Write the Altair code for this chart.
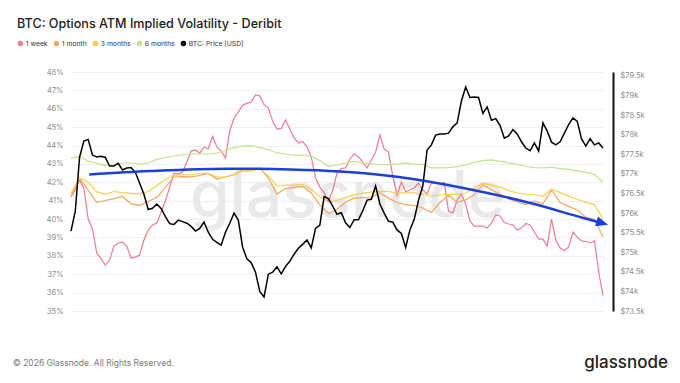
import altair as alt
import pandas as pd

# time axes: hours since day-0 00:00 (regular sampling grids)
hours = [round(10.24 + 2.7 * k, 3) for k in range(63)]
hours_fine = [round(10.24 + 1.35 * j, 3) for j in range(125)]

iv_1w = [41.2, 41.6, 42.12, 41.69, 40.0, 39.46, 38.15, 37.83, 37.5, 37.77,
         38.53, 38.70, 38.75, 38.53, 37.88, 37.93, 38.04, 38.86, 39.4, 39.68,
         39.78, 40.38, 40.98, 41.74, 42.5, 42.45, 42.56, 43.10, 43.7, 43.76,
         43.59, 43.92, 43.81, 44.5, 43.92, 43.70, 43.32, 44.79, 45.5, 45.82,
         46.2, 46.29, 46.37, 46.75, 46.7, 46.22, 46.04, 45.33, 44.9, 44.93,
         45.39, 44.90, 44.41, 44.14, 44.22, 43.92, 43.38, 42.23, 41.74, 41.44,
         40.93, 41.58, 42.5, 42.75, 42.78, 43.27, 43.54, 43.38, 43.1, 42.78,
         43.21, 43.65, 44.57, 43.8, 43.65, 42.34, 41.3, 42.02, 41.47, 41.58,
         41.69, 41.96, 41.58, 41.36, 41.96, 41.96, 41.91, 42.0, 40.44, 40.33,
         41.04, 41.36, 40.82, 39.89, 39.62, 39.62, 39.62, 39.51, 39.78, 40.22,
         40.17, 39.81, 39.73, 39.69, 39.4, 39.51, 39.76, 39.68, 39.3, 38.91,
         38.91, 38.53, 40.0, 38.86, 38.42, 38.29, 38.48, 39.30, 39.02, 38.81,
         38.78, 38.70, 38.81, 37.12, 35.85]
iv_1m = [41.25, 42.23, 41.58, 40.91, 41.01, 41.11, 41.23, 40.83, 40.75, 40.95,
         41.18, 41.72, 42.29, 42.31, 42.30, 42.37, 42.48, 42.18, 42.29, 42.42,
         42.67, 42.67, 42.78, 42.23, 41.36, 41.66, 41.72, 41.78, 41.42, 40.77,
         40.30, 40.52, 40.93, 41.14, 41.17, 41.16, 41.44, 41.14, 40.90, 40.79,
         40.74, 40.60, 40.36, 40.90, 41.30, 40.93, 41.04, 41.32, 41.88, 41.58,
         41.35, 41.09, 40.93, 40.79, 40.98, 40.83, 41.58, 40.90, 40.69, 40.49,
         40.10, 39.99, 39.02]
iv_3m = [41.42, 42.23, 42.02, 41.48, 41.36, 41.50, 41.44, 41.40, 41.37, 41.50,
         41.82, 42.15, 42.38, 42.41, 42.41, 42.48, 42.50, 42.29, 42.29, 42.42,
         42.61, 42.61, 42.75, 42.34, 41.80, 41.85, 41.85, 41.88, 41.61, 41.23,
         40.93, 41.01, 41.17, 41.32, 41.41, 41.47, 41.51, 41.50, 41.42, 41.42,
         41.42, 41.34, 41.25, 41.31, 41.35, 41.34, 41.42, 41.69, 41.96, 41.85,
         41.74, 41.55, 41.42, 41.35, 41.35, 41.24, 41.63, 41.44, 41.25, 41.08,
         40.91, 40.79, 40.00]
iv_6m = [43.32, 43.40, 43.16, 43.03, 42.91, 42.94, 43.05, 43.05, 42.99, 43.05,
         43.25, 43.35, 43.43, 43.50, 43.54, 43.54, 43.54, 43.59, 43.73, 43.89,
         43.97, 44.00, 43.89, 43.77, 43.61, 43.54, 43.48, 43.47, 43.43, 43.18,
         42.87, 42.94, 43.05, 43.14, 43.05, 43.01, 42.97, 42.96, 42.99, 43.04,
         42.99, 42.97, 42.78, 42.78, 42.80, 42.85, 42.94, 43.10, 43.18, 43.22,
         43.14, 43.06, 42.97, 42.86, 42.80, 42.78, 42.82, 42.74, 42.70, 42.62,
         42.54, 42.43, 41.99]
btc_price_k = [75.54, 76.05, 77.43, 77.84, 77.88, 77.48, 77.43, 77.45, 77.42, 77.20,
               77.20, 77.27, 77.10, 77.15, 77.16, 77.04, 76.76, 76.48, 76.09, 76.12,
               76.23, 76.12, 75.91, 75.73, 75.71, 75.82, 75.78, 75.74, 75.66, 75.54,
               75.61, 75.77, 75.51, 75.33, 75.25, 75.18, 75.51, 75.74, 76.00, 75.82,
               75.13, 74.83, 74.73, 74.49, 74.00, 73.86, 74.44, 74.49, 74.63, 74.45,
               74.64, 74.77, 74.95, 75.10, 75.20, 75.31, 75.11, 75.61, 75.69, 76.42,
               76.37, 76.18, 75.97, 76.01, 75.75, 75.63, 75.83, 75.83, 76.06, 76.33,
               76.35, 76.69, 76.23, 76.00, 75.79, 75.77, 75.57, 75.48, 75.12, 75.57,
               75.84, 76.33, 76.69, 77.61, 77.74, 77.99, 78.02, 78.02, 78.04, 78.20,
               78.30, 78.86, 79.22, 78.95, 78.96, 78.95, 78.54, 78.71, 78.37, 78.41,
               78.24, 77.91, 77.97, 78.13, 78.02, 77.82, 77.66, 77.59, 77.79, 77.58,
               78.30, 78.09, 77.81, 77.74, 77.82, 78.04, 78.26, 78.43, 78.34, 77.89,
               77.71, 77.90, 77.74, 77.79, 77.66]

# annotation arrow (drawn in the IV scale)
arrow_hours = [15.97, 35.09, 59.24, 79.18, 94.93, 112.79, 133.67, 154.77, 171.46, 177.0]
arrow_iv = [42.43, 42.61, 42.74, 42.70, 42.59, 42.30, 41.69, 40.87, 40.06, 39.80]
head_hours = [177.42]
head_iv = [39.78]

series_names = ["1 week", "1 month", "3 months", "6 months", "BTC: Price [USD]"]
series_colors = ["#ec7b92", "#f2a660", "#f4d04c", "#bfe48c", "#000000"]
iv_ticks = list(range(35, 49))
price_ticks = [73.5 + 0.5 * i for i in range(13)]
x_ticks = list(range(12, 169, 12))

FONT = "Inter"
LABEL_COLOR = "#8c8c8c"

rows = []
for name, hs, vals in zip(series_names[:4],
                          [hours_fine, hours, hours, hours],
                          [iv_1w, iv_1m, iv_3m, iv_6m]):
    for h, v in zip(hs, vals):
        rows.append({"h": h, "v": v, "series": name})
vol_df = pd.DataFrame(rows)
price_df = pd.DataFrame({"h": hours_fine, "p": btc_price_k, "series": series_names[4]})
arrow_df = pd.DataFrame({"h": arrow_hours, "v": arrow_iv})
head_df = pd.DataFrame({"h": head_hours, "v": head_iv})

x_scale = alt.Scale(domain=[hours[0], hours[-1]], nice=False, zero=False)
x_axis = alt.Axis(values=x_ticks, labelExpr="datum.value % 24 == 0 ? '00:00' : '12:00'",
                  grid=False, domain=False, ticks=False, labelPadding=8, labelFontSize=7.5,
                  labelColor=LABEL_COLOR, labelFont=FONT, title=None)
iv_scale = alt.Scale(domain=[35, 48], nice=False, zero=False)

color_enc = alt.Color(
    "series:N",
    scale=alt.Scale(domain=series_names, range=series_colors),
    legend=alt.Legend(orient="none", legendX=-54, legendY=-32, direction="horizontal",
                      title=None, symbolType="circle", symbolSize=9, symbolStrokeWidth=2.4,
                      labelFontSize=6.8, labelFont=FONT, labelColor="#333333",
                      columnPadding=2, labelOffset=2),
)

watermark = alt.Chart(pd.DataFrame({"t": ["glassnode"]})).mark_text(
    align="left", baseline="alphabetic", fontSize=64, font=FONT, fontWeight=500, color="#e9e9e9"
).encode(text="t:N", x=alt.value(119), y=alt.value(145))

vol_lines = alt.Chart(vol_df).mark_line(strokeWidth=1.2).encode(
    x=alt.X("h:Q", scale=x_scale, axis=x_axis),
    y=alt.Y("v:Q", scale=iv_scale,
            axis=alt.Axis(values=iv_ticks, labelExpr="datum.value + '%'", grid=True,
                          gridColor="#efefef", gridWidth=1, domain=False, ticks=False,
                          labelPadding=8, labelFontSize=7.5, labelColor=LABEL_COLOR,
                          labelFont=FONT, title=None, orient="left")),
    color=color_enc,
)

arrow_line = alt.Chart(arrow_df).mark_line(color="#1d3fd8", strokeWidth=2.5, interpolate="monotone").encode(
    x=alt.X("h:Q", scale=x_scale, axis=None),
    y=alt.Y("v:Q", scale=iv_scale, axis=None),
)
arrow_head = alt.Chart(head_df).mark_point(
    shape="M -1 -0.85 L 1 0 L -1 0.85 Z", filled=True, size=144, angle=16,
    color="#1d3fd8", opacity=1, strokeWidth=0
).encode(
    x=alt.X("h:Q", scale=x_scale, axis=None),
    y=alt.Y("v:Q", scale=iv_scale, axis=None),
)

title_txt = alt.Chart(pd.DataFrame({"t": ["BTC: Options ATM Implied Volatility - Deribit"]})).mark_text(
    align="left", baseline="alphabetic", fontSize=12.6, font=FONT, fontWeight=500, color="#1b1b1b"
).encode(text="t:N", x=alt.value(-54), y=alt.value(-44))

footer_txt = alt.Chart(pd.DataFrame({"t": ["© 2026 Glassnode. All Rights Reserved."]})).mark_text(
    align="left", baseline="alphabetic", fontSize=8.5, font=FONT, color="#7a7a7a"
).encode(text="t:N", x=alt.value(-58), y=alt.value(294))

logo_txt = alt.Chart(pd.DataFrame({"t": ["glassnode"]})).mark_text(
    align="right", baseline="alphabetic", fontSize=17, font=FONT, fontWeight=500, color="#222222"
).encode(text="t:N", x=alt.value(597), y=alt.value(296))

left_layer = alt.layer(watermark, vol_lines, title_txt, footer_txt, logo_txt)

price_line = alt.Chart(price_df).mark_line(strokeWidth=1.5).encode(
    x=alt.X("h:Q", scale=x_scale, axis=None),
    y=alt.Y("p:Q", scale=alt.Scale(domain=[73.5, 79.6], nice=False, zero=False),
            axis=alt.Axis(orient="right", values=price_ticks, labelExpr="'$' + datum.value + 'k'",
                          grid=False, domain=True, domainColor="#111111", domainWidth=2,
                          offset=10, ticks=False, labelPadding=7, labelFontSize=7.5,
                          labelColor=LABEL_COLOR, labelFont=FONT, title=None)),
    color=color_enc,
)

top_layer = alt.layer(arrow_line, arrow_head)

chart = alt.layer(left_layer, price_line, top_layer).resolve_scale(y="independent").properties(
    width=532, height=239,
    autosize=alt.AutoSizeParams(type="none"),
    padding={"left": 63, "top": 64, "right": 69, "bottom": 62},
    background="white",
).configure_view(strokeWidth=0)

chart.save("out.html", embed_options={"renderer": "svg", "actions": False})
